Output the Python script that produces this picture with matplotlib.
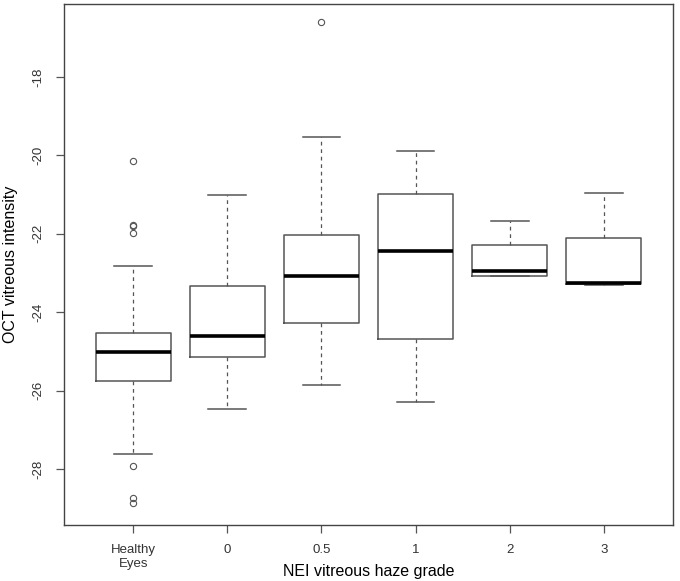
import numpy as np
import matplotlib
matplotlib.use("Agg")
import matplotlib.pyplot as plt

plt.rcParams["font.family"] = ["Liberation Sans", "DejaVu Sans"]

# groups and box statistics
grupos = ["Healthy\nEyes", "0", "0.5", "1", "2", "3"]
whislo = [-27.61, -26.48, -25.87, -26.29, -23.09, -23.31]
q1 = [-25.76, -25.15, -24.28, -24.69, -23.09, -23.29]
med = [-25.02, -24.62, -23.08, -22.45, -22.96, -23.26]
q3 = [-24.52, -23.34, -22.02, -20.98, -22.28, -22.12]
whishi = [-22.81, -21.00, -19.52, -19.89, -21.68, -20.96]
fliers = [[-20.14, -21.78, -21.80, -21.97, -27.92, -28.73, -28.88],
          [], [-16.60], [], [], []]

stats = []
for i in range(len(grupos)):
    stats.append(dict(whislo=whislo[i], q1=q1[i], med=med[i], q3=q3[i],
                      whishi=whishi[i], fliers=fliers[i]))

gris = "#555555"
fig = plt.figure(figsize=(6.8, 5.81), dpi=100)
ax = fig.add_axes([0.0934, 0.0964, 0.8970, 0.8959])

ax.bxp(stats, positions=np.arange(1, 7), widths=0.8, showfliers=True,
       boxprops=dict(color=gris, linewidth=1.1),
       medianprops=dict(color="black", linewidth=2.6, solid_capstyle="butt"),
       whiskerprops=dict(color=gris, linewidth=0.9, linestyle=(0, (3, 3))),
       capprops=dict(color=gris, linewidth=1.1),
       capwidths=0.4,
       flierprops=dict(marker="o", markersize=4.5, markerfacecolor="none",
                       markeredgecolor=gris, markeredgewidth=0.8))

ax.set_xlim(0.26, 6.74)
ax.set_ylim(-29.43, -16.15)
ax.set_xticks(np.arange(1, 7))
ax.set_xticklabels(grupos, fontsize=9.5, color="#333333")
ax.set_yticks([-28, -26, -24, -22, -20, -18])
ax.set_yticklabels(["-28", "-26", "-24", "-22", "-20", "-18"], rotation=90,
                   va="center", fontsize=9.5, color="#333333")
ax.tick_params(direction="out", length=6, width=0.9, color=gris, pad=8)
for s in ax.spines.values():
    s.set_color("#444444")
    s.set_linewidth(1.0)

ax.set_xlabel("NEI vitreous haze grade", fontsize=11.5, va="center")
ax.xaxis.set_label_coords(0.5, -0.09)
ax.set_ylabel("OCT vitreous intensity", fontsize=11.5, labelpad=10)

plt.savefig("out.png", dpi=100)
